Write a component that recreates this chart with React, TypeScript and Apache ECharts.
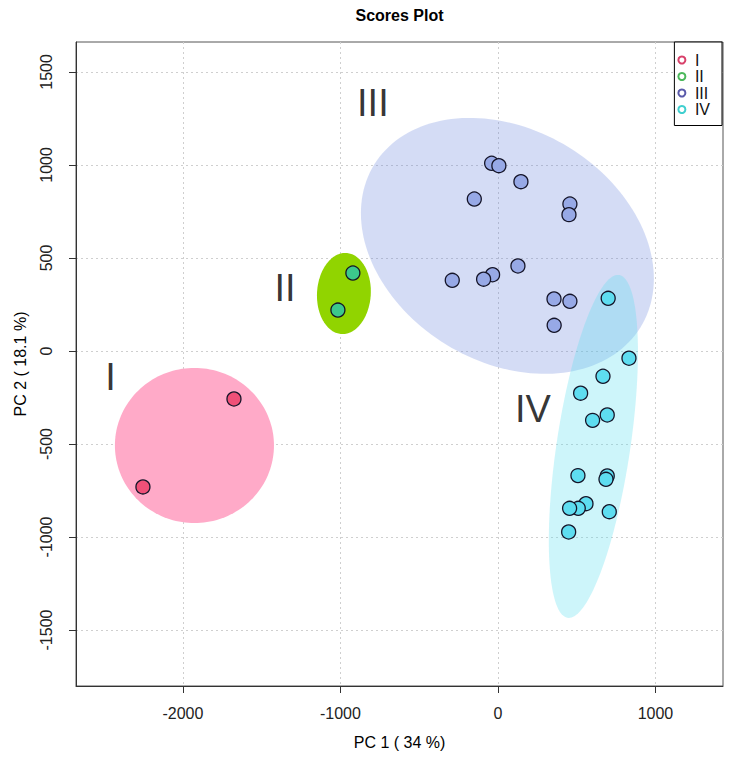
import React, { useEffect, useRef } from "react";
import * as echarts from "echarts";

// ---- data ----
const groups = ["I", "II", "III", "IV"];

const pc1_I = [-1676, -2254];
const pc2_I = [-258, -731];

const pc1_II = [-921, -1016];
const pc2_II = [419, 220];

const pc1_III = [-40, 6, 146, -150, 457, 451, 127, -34, -91, -290, 356, 457, 357];
const pc2_III = [1009, 996, 910, 817, 790, 733, 457, 410, 386, 380, 280, 267, 138];

const pc1_IV = [700, 832, 667, 525, 694, 601, 508, 694, 686, 559, 510, 455, 707, 449];
const pc2_IV = [283, -39, -136, -227, -344, -373, -670, -672, -690, -821, -846, -846, -864, -973];

// ellipse parameters (data units): centre x, centre y, x half-range, y half-range, correlation
const ellipseCx = [-1927, -978, 60, 606];
const ellipseCy = [-508, 309, 565, -513];
const ellipseRx = [505, 171, 930, 283];
const ellipseRy = [417, 218, 688, 922];
const ellipseRho = [0, 0.05, -0.256, 0.55];

// group label annotations
const labelX = [-2459, -1352, -794, 222];
const labelY = [-140, 339, 1333, -312];

const xTicks = [-2000, -1000, 0, 1000];
const yTicks = [-1500, -1000, -500, 0, 500, 1000, 1500];

const xRange = [-2679, 1429];
const yRange = [-1801, 1661];

// ---- styles ----
const pointFill = ["#EF5078", "#3CC88C", "#97A9E6", "#5EDDF0"];
const legendColor = ["#D8406A", "#4CB85C", "#5A5AAA", "#3FCFCF"];
const ellipseFill = [
  "rgba(255,170,200,1)",
  "rgba(145,212,0,1)",
  "rgba(100,130,220,0.28)",
  "rgba(88,222,238,0.3)",
];

const FONT = "'Liberation Sans Narrow', 'Liberation Sans', Arial, sans-serif";

export default function App() {
  const ref = useRef<HTMLDivElement>(null);

  useEffect(() => {
    if (!ref.current) return;
    const chart = echarts.init(ref.current, undefined, { renderer: "svg" });

    const pcs = [
      [pc1_I, pc2_I],
      [pc1_II, pc2_II],
      [pc1_III, pc2_III],
      [pc1_IV, pc2_IV],
    ];

    const ellipseData = ellipseCx.map((cx, i) => [cx, ellipseCy[i], ellipseRx[i], ellipseRy[i], ellipseRho[i]]);

    const scatterSeries = groups.map((g, gi) => ({
      name: g,
      type: "scatter",
      z: 3,
      symbol: "circle",
      symbolSize: 14,
      data: pcs[gi][0].map((x, i) => [x, pcs[gi][1][i]]),
      itemStyle: {
        color: pointFill[gi],
        borderColor: "#141428",
        borderWidth: 1.3,
        opacity: 1,
      },
      emphasis: { disabled: true },
    }));

    const option: any = {
      animation: false,
      textStyle: { fontFamily: FONT },
      graphic: [
        {
          type: "text",
          x: 399.5,
          y: 15,
          style: {
            text: "Scores Plot",
            fontFamily: "'Liberation Sans', Arial, sans-serif",
            fontWeight: "bold",
            fontSize: 16,
            fill: "#000",
            textAlign: "center",
            textVerticalAlign: "middle",
          },
        },
      ],
      grid: {
        left: 76,
        right: 7,
        top: 42,
        bottom: 83,
        show: true,
        borderColor: "#555",
        borderWidth: 1,
        backgroundColor: "transparent",
      },
      legend: {
        data: groups.map((g, i) => ({
          name: g,
          icon: "emptyCircle",
          itemStyle: { color: legendColor[i] },
          textStyle: { color: "#111" },
        })),
        orient: "vertical",
        right: 8,
        top: 42,
        padding: [10, 12, 8, 3],
        itemWidth: 16,
        itemHeight: 7,
        itemGap: 0.5,
        borderColor: "#000",
        borderWidth: 1,
        backgroundColor: "#fff",
        selectedMode: false,
        textStyle: { fontFamily: FONT, fontSize: 16, lineHeight: 16, color: "#111" },
      },
      xAxis: {
        type: "value",
        min: xRange[0],
        max: xRange[1],
        name: "PC 1 ( 34 %)",
        nameLocation: "middle",
        nameGap: 48,
        nameTextStyle: { fontFamily: FONT, fontSize: 16, color: "#000" },
        axisLine: { show: true, onZero: false, lineStyle: { color: "#333", width: 1 } },
        axisTick: { show: true, length: 7, lineStyle: { color: "#333" }, customValues: xTicks },
        axisLabel: {
          show: true,
          margin: 19,
          fontFamily: FONT,
          fontSize: 16,
          color: "#222",
          customValues: xTicks,
          formatter: (v: number) => String(v),
        },
        splitLine: { show: true, lineStyle: { color: "#cfcfcf", type: [2, 3], width: 1 } },
      },
      yAxis: {
        type: "value",
        min: yRange[0],
        max: yRange[1],
        name: "PC 2 ( 18.1 %)",
        nameLocation: "middle",
        nameRotate: 90,
        nameGap: 48,
        nameTextStyle: { fontFamily: FONT, fontSize: 16, color: "#000" },
        axisLine: { show: true, onZero: false, lineStyle: { color: "#333", width: 1 } },
        axisTick: { show: true, length: 7, lineStyle: { color: "#333" }, customValues: yTicks },
        axisLabel: {
          show: true,
          rotate: 90,
          margin: 22,
          fontFamily: FONT,
          fontSize: 16,
          color: "#222",
          customValues: yTicks,
          formatter: (v: number) => String(v),
        },
        splitLine: { show: true, lineStyle: { color: "#cfcfcf", type: [2, 3], width: 1 } },
      },
      series: [
        {
          name: "ellipses",
          type: "custom",
          z: 1,
          silent: true,
          clip: true,
          data: ellipseData,
          encode: { x: 0, y: 1 },
          renderItem: (params: any, api: any) => {
            const cx = api.value(0);
            const cy = api.value(1);
            const rx = api.value(2);
            const ry = api.value(3);
            const rho = api.value(4);
            const s = Math.sqrt(1 - rho * rho);
            const pts: number[][] = [];
            const n = 160;
            for (let i = 0; i < n; i++) {
              const t = (i / n) * Math.PI * 2;
              const x = cx + rx * Math.cos(t);
              const y = cy + ry * (rho * Math.cos(t) + s * Math.sin(t));
              pts.push(api.coord([x, y]));
            }
            return {
              type: "polygon",
              shape: { points: pts },
              style: { fill: ellipseFill[params.dataIndex], stroke: "none" },
            };
          },
        },
        ...scatterSeries,
        {
          name: "labels",
          type: "scatter",
          z: 2,
          silent: true,
          symbol: "circle",
          symbolSize: 1,
          itemStyle: { color: "rgba(0,0,0,0)" },
          data: labelX.map((x, i) => ({ value: [x, labelY[i]], name: groups[i] })),
          label: {
            show: true,
            position: "inside",
            formatter: (p: any) => p.name,
            fontFamily: "'Liberation Sans', Arial, sans-serif",
            fontSize: 38,
            color: "#000",
            textBorderWidth: 0,
          },
          emphasis: { disabled: true },
        },
      ],
    };

    chart.setOption(option);
    return () => chart.dispose();
  }, []);

  return <div ref={ref} style={{ position: "fixed", left: 0, top: 0, width: 730, height: 769, background: "#fff" }} />;
}
